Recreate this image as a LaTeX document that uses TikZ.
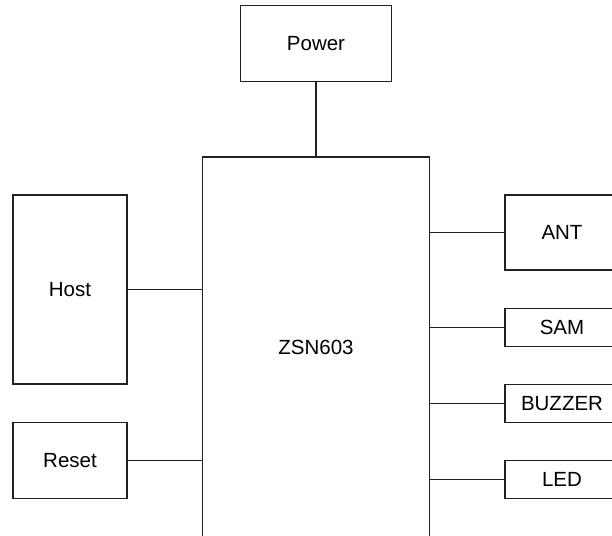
\documentclass[tikz,border=0pt]{standalone}
\usepackage{fontspec}
\setmainfont{Liberation Sans}
\begin{document}
\begin{tikzpicture}[x=1pt,y=-1pt,
  blk/.style={draw=black!87,line width=1.5pt,inner sep=0pt,anchor=center,
    font=\fontsize{20.5}{24}\selectfont},
  wire/.style={draw=black!87,line width=1.5pt}]
\useasboundingbox (0,0) rectangle (612,535);
\clip (0,0) rectangle (612,535);
\node[blk,minimum width=151pt,minimum height=76pt] (power) at (316,43.5) {Power};
\node[blk,minimum width=227pt,minimum height=380pt] (main) at (316,347) {ZSN603};
\node[blk,minimum width=114pt,minimum height=189pt] (host) at (70,289.5) {Host};
\node[blk,minimum width=114pt,minimum height=76pt] (reset) at (70,460.5) {Reset};
\node[blk,minimum width=114pt,minimum height=75pt] (ant) at (562,232.5) {ANT};
\node[blk,minimum width=114pt,minimum height=38pt] (sam) at (562,327.5) {SAM};
\node[blk,minimum width=114pt,minimum height=38pt] (buzzer) at (562,403.5) {BUZZER};
\node[blk,minimum width=114pt,minimum height=38pt] (led) at (562,479.5) {LED};
\draw[wire] (power.south) -- (main.north);
\draw[wire] (host.east) -- (main.west |- host.east);
\draw[wire] (reset.east) -- (main.west |- reset.east);
\draw[wire] (main.east |- ant.west) -- (ant.west);
\draw[wire] (main.east |- sam.west) -- (sam.west);
\draw[wire] (main.east |- buzzer.west) -- (buzzer.west);
\draw[wire] (main.east |- led.west) -- (led.west);
\end{tikzpicture}
\end{document}
